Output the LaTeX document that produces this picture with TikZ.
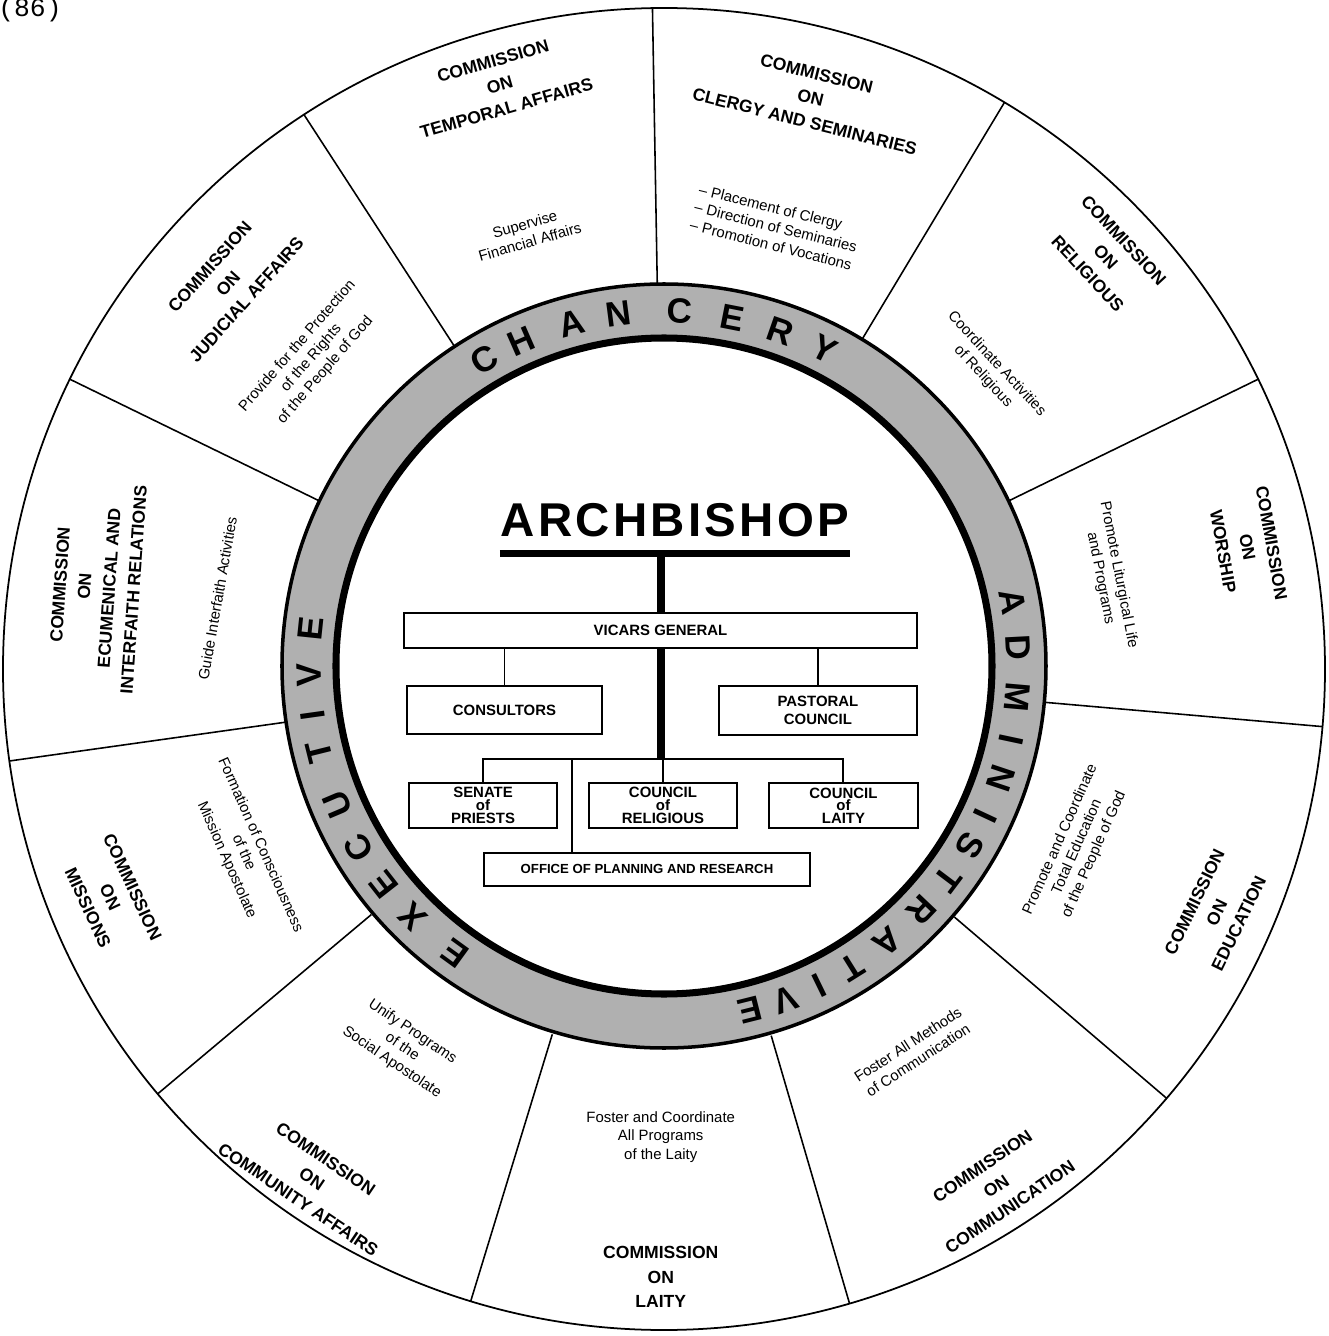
\documentclass[tikz,border=0pt]{standalone}
\usepackage{fontspec}
\setmainfont{Liberation Sans}
\setmonofont{Liberation Mono}
\newfontfamily\wordfont{Liberation Sans}[LetterSpace=7]
\usetikzlibrary{positioning}

\begin{document}
\begin{tikzpicture}[
    x=0.02cm, y=0.02cm,
    node distance=1cm,
    office/.style={rectangle, draw, line width=1.1pt, inner sep=0pt, align=center, font=\fontsize{8.5}{7.2}\selectfont\bfseries},
    title/.style={align=center, font=\fontsize{10}{14}\selectfont\bfseries},
    duty/.style={align=center, font=\fontsize{8.5}{10.5}\selectfont},
    ringletter/.style={font=\fontsize{20}{20}\selectfont\bfseries, inner sep=0pt},
    spoke/.style={line width=0.9pt},
    trunk/.style={line width=4.5pt},
    link/.style={line width=1.1pt}
]
\useasboundingbox (-664,-667) rectangle (665,669);

% wheel and commissions
\draw[line width=1pt] (0,0) circle (661);
\foreach \a in {123,91,59,26,-5,-40.5,-73.7,-107,-140,-172,154}
    \draw[spoke] (\a:382) -- (\a:661);

\node[title, rotate=16] (temporal) at (105.7:607) {COMMISSION\\ON\\TEMPORAL AFFAIRS};
\node[duty, rotate=16] (temporaldo) at (107.4:457) {Supervise\\Financial Affairs};
\node[title, rotate=-14] (clergy) at (75.6:590) {COMMISSION\\ON\\CLERGY AND SEMINARIES};
\node[duty, rotate=-14, align=left] (clergydo) at (75.8:456) {-- Placement of Clergy\\-- Direction of Seminaries\\-- Promotion of Vocations};
\node[title, rotate=-47] (religious) at (43:604) {COMMISSION\\ON\\RELIGIOUS};
\node[duty, rotate=-47] (religiousdo) at (42.5:442) {Coordinate Activities\\of Religious};
\node[title, rotate=-80] (worship) at (11.8:596) {COMMISSION\\ON\\WORSHIP};
\node[duty, rotate=-79] (worshipdo) at (11.7:455) {Promote Liturgical Life\\and Programs};
\node[title, rotate=64] (education) at (-23.8:604) {COMMISSION\\ON\\EDUCATION};
\node[duty, rotate=66] (educationdo) at (-23.3:450) {Promote and Coordinate\\Total Education\\of the People of God};
\node[title, rotate=34] (communication) at (-57.3:615) {COMMISSION\\ON\\COMMUNICATION};
\node[duty, rotate=33] (communicationdo) at (-57:457) {Foster All Methods\\of Communication};
\node[title] (laitycom) at (-90.3:608) {COMMISSION\\ON\\LAITY};
\node[duty] (laitydo) at (-90.4:468) {Foster and Coordinate\\All Programs\\of the Laity};
\node[title, rotate=-34] (community) at (-124.6:620) {COMMISSION\\ON\\COMMUNITY AFFAIRS};
\node[duty, rotate=-34] (communitydo) at (-124.7:460) {Unify Programs\\of the\\Social Apostolate};
\node[title, rotate=-65] (missions) at (-157.6:599) {COMMISSION\\ON\\MISSIONS};
\node[duty, rotate=-66] (missionsdo) at (-156.4:459) {Formation of Consciousness\\of the\\Mission Apostolate};
\node[title, rotate=86] (ecumenical) at (171.8:573) {COMMISSION\\ON\\ECUMENICAL AND\\INTERFAITH RELATIONS};
\node[duty, rotate=80] (ecumenicaldo) at (171:452) {Guide Interfaith Activities};
\node[title, rotate=48] (judicial) at (138.5:582) {COMMISSION\\ON\\JUDICIAL AFFAIRS};
\node[duty, rotate=49] (judicialdo) at (138.6:470) {Provide for the Protection\\of the Rights\\of the People of God};

% ring
\begin{scope}[shift={(0,3)}]
    \fill[gray!62, even odd rule] (0,0) circle (382) (0,0) circle (328);
    \draw[line width=2pt] (0,0) circle (382);
    \draw[line width=4pt] (0,0) circle (328);
    \foreach \a/\l [count=\i] in {120.4/C,113.7/H,105/A,97.4/N,87.4/C,78.9/E,70.8/R,63.1/Y}
        \node[ringletter, rotate=\a-90] (chancery\i) at (\a:355) {\l};
    \foreach \a/\l [count=\i] in {10.5/A,3/D,-5/M,-12/I,-18.5/N,-25/I,-30.5/S,-37/T,-43.5/R,-51/A,-58/T,-64/I,-70/V,-76/E}
        \node[ringletter, rotate=\a-90] (admin\i) at (\a:355) {\l};
    \foreach \a/\l [count=\i] in {234/E,225/X,218/E,210.8/C,203/U,194/T,188/I,181.5/V,174/E}
        \node[ringletter, rotate=\a-90] (exec\i) at (\a:355) {\l};
\end{scope}

% chart in the middle
\node[font=\wordfont\fontsize{27}{27}\selectfont\bfseries] (archbishop) at (11,149) {ARCHBISHOP};
\coordinate (barL) at (-164,115.5);
\coordinate (barR) at (186,115.5);
\coordinate (barM) at (-3,115.5);
\draw[line width=4pt] (barL) -- (barR);

\node[office, minimum width=10.26cm, minimum height=0.7cm] (vicars) at (-3.5,38.5) {VICARS GENERAL};
\node[office, minimum width=3.9cm, minimum height=0.96cm, below of=vicars, yshift=-0.59cm, xshift=-3.12cm] (consultors) {CONSULTORS};
\node[office, minimum width=3.96cm, minimum height=0.98cm, below of=vicars, yshift=-0.6cm, xshift=3.15cm, font=\fontsize{8.5}{10}\selectfont\bfseries] (pastoral) {PASTORAL\\COUNCIL};
\node[office, minimum width=2.96cm, minimum height=0.9cm, below of=vicars, yshift=-2.5cm, xshift=-3.55cm] (senate) {SENATE\\of\\PRIESTS};
\node[office, minimum width=2.96cm, minimum height=0.9cm, right of=senate, xshift=2.6cm] (councilrel) {COUNCIL\\of\\RELIGIOUS};
\node[office, minimum width=2.98cm, minimum height=0.9cm, right of=councilrel, xshift=2.61cm] (councillay) {COUNCIL\\of\\LAITY};
\node[office, minimum width=6.52cm, minimum height=0.66cm, below of=councilrel, yshift=-0.28cm, xshift=-0.32cm, font=\fontsize{7.5}{7.5}\selectfont\bfseries] (planning) {OFFICE OF PLANNING AND RESEARCH};

\coordinate (split) at (-3,-90);
\coordinate (tap) at (-92,-90);
\draw[trunk] (barM) -- (barM |- vicars.north);
\draw[trunk] (vicars.south -| split) -- (split);
\draw[link] (vicars.south -| consultors) -- (consultors.north);
\draw[link] (vicars.south -| pastoral) -- (pastoral.north);
\draw[link] (senate.north) |- (split);
\draw[link] (councillay.north) |- (split);
\draw[link] (councilrel.north) -- (councilrel.north |- split);
\draw[link] (tap) -- (tap |- planning.north);

\node[font=\ttfamily\fontsize{15}{15}\selectfont, anchor=base west, inner sep=0pt] (pagenum) at (-666,652) {(86)};
\end{tikzpicture}
\end{document}
